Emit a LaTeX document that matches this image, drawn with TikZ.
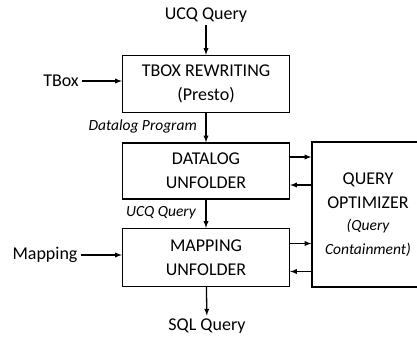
\documentclass[tikz,border=0pt]{standalone}
\usepackage{fontspec}
\setmainfont{Carlito}
\usetikzlibrary{arrows,positioning,calc}

\newcommand{\itfont}{\fontsize{15.5}{19}\selectfont\itshape}

\begin{document}
\begin{tikzpicture}[x=1pt,y=-1pt,
  block/.style={rectangle,draw,line width=1.3pt,align=center,inner sep=0pt,minimum width=167pt,minimum height=57pt,font=\fontsize{18}{24}\selectfont},
  plain/.style={inner sep=3pt,font=\fontsize{18}{22}\selectfont},
  note/.style={inner sep=1pt,font=\itfont},
  edge/.style={line width=1.3pt,->,>=latex}]
\clip (0,0) rectangle (417,337);
\node(tbox)[block] at (206,84) {TBOX REWRITING\\(Presto)};
\node(datalog)[block,minimum height=56pt] at (206,171) {DATALOG\\UNFOLDER};
\node(mapping)[block,minimum height=58pt] at (206,257.5) {MAPPING\\UNFOLDER};
\node(opt)[block,minimum width=112pt,minimum height=145pt] at (368,214.5) {QUERY\\OPTIMIZER\\[-2pt]\itfont(Query\\[0pt]\itfont Containment)};

\node(ucq)[plain] at (206,15) {UCQ Query};
\node(tboxin)[plain] at (61,81) {TBox};
\node(mapin)[plain] at (45,255) {Mapping};
\node(sql)[plain] at (207,326) {SQL Query};
\node(prog)[note,anchor=east] at (198,126) {Datalog Program};
\node(ucq2)[note,anchor=east] at (197,213) {UCQ Query};

% links to the optimizer
\coordinate (dout) at ($(datalog.east)+(0,-14)$);
\coordinate (din) at ($(datalog.east)+(0,14)$);
\coordinate (mout) at ($(mapping.east)+(0,-14)$);
\coordinate (min) at ($(mapping.east)+(0,14)$);

\draw [edge] (ucq) to (tbox);
\draw [edge] (tboxin.east) -- (tboxin.east -| tbox.west);
\draw [edge] (tbox) to (datalog);
\draw [edge] (datalog) to (mapping);
\draw [edge] (mapin.east) -- (mapin.east -| mapping.west);
\draw [edge] (mapping) to (sql);
\draw [edge] (dout) -- (dout -| opt.west);
\draw [edge] (din -| opt.west) -- (din);
\draw [edge] (mout) -- (mout -| opt.west);
\draw [edge] (min -| opt.west) -- (min);
\end{tikzpicture}
\end{document}
